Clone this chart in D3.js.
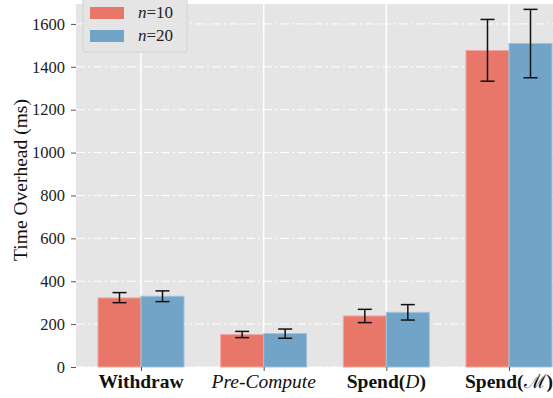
<!DOCTYPE html>
<html>
<head>
<meta charset="utf-8">
<script src="https://cdn.jsdelivr.net/npm/d3@7"></script>
<style>
  body { margin: 0; background: #fff; }
  svg { display: block; font-family: "Liberation Serif", "DejaVu Serif", serif; }
</style>
</head>
<body>
<svg width="553" height="398"></svg>
<script>
const categories = ["Withdraw", "Pre-Compute", "SpendD", "SpendM"]
const seriesNames = ["n=10", "n=20"]
const meanN10 = [322, 151, 238, 1476]
const meanN20 = [330, 156, 255, 1509]
const lowN10 = [300, 137, 207, 1333]
const highN10 = [347, 166, 269, 1621]
const lowN20 = [305, 134, 219, 1349]
const highN20 = [355, 177, 291, 1668]
const yTicks = [0, 200, 400, 600, 800, 1000, 1200, 1400, 1600]

const colors = ["#E8776A", "#72A4C8"]
const edges = ["#F0A69E", "#A2C3DC"]

const svg = d3.select("svg")
const plotLeft = 76, plotTop = 4, plotBottom = 367, plotRight = 553

const x = d3.scalePoint().domain(categories).range([141, 509])
const sub = d3.scaleBand().domain(seriesNames).range([-43, 43])
const y = d3.scaleLinear().domain([0, 1693]).range([plotBottom, plotTop])

// background
svg.append("rect")
    .attr("x", plotLeft).attr("y", plotTop)
    .attr("width", plotRight - plotLeft).attr("height", plotBottom - plotTop)
    .style("fill", "#E5E5E5")

// horizontal grid (dash-dot)
svg.append("g").selectAll("line")
    .data(yTicks)
    .enter()
    .append("line")
    .attr("x1", plotLeft).attr("x2", plotRight)
    .attr("y1", d => y(d)).attr("y2", d => y(d))
    .style("stroke", "#fff")
    .style("stroke-width", 1)
    .style("stroke-dasharray", "9,3,2,3")

// vertical grid
svg.append("g").selectAll("line")
    .data(categories)
    .enter()
    .append("line")
    .attr("x1", d => x(d)).attr("x2", d => x(d))
    .attr("y1", plotTop).attr("y2", plotBottom)
    .style("stroke", "#fff")
    .style("stroke-width", 1.5)

const series = [
    { name: seriesNames[0], mean: meanN10, low: lowN10, high: highN10 },
    { name: seriesNames[1], mean: meanN20, low: lowN20, high: highN20 }
]

series.forEach((s, si) => {
    const g = svg.append("g")
    g.selectAll("rect")
        .data(categories)
        .enter()
        .append("rect")
        .attr("x", d => x(d) + sub(s.name))
        .attr("width", sub.bandwidth())
        .attr("y", (d, i) => y(s.mean[i]))
        .attr("height", (d, i) => y(0) - y(s.mean[i]))
        .style("fill", colors[si])
        .style("stroke", edges[si])
        .style("stroke-width", 1)

    categories.forEach((c, i) => {
        const cx = x(c) + sub(s.name) + sub.bandwidth() / 2
        g.append("line")
            .attr("x1", cx).attr("x2", cx)
            .attr("y1", y(s.low[i])).attr("y2", y(s.high[i]))
            .style("stroke", "#111").style("stroke-width", 1.5)
        ;[s.low[i], s.high[i]].forEach(v => {
            g.append("line")
                .attr("x1", cx - 7).attr("x2", cx + 7)
                .attr("y1", y(v)).attr("y2", y(v))
                .style("stroke", "#111").style("stroke-width", 1.5)
        })
    })
})

// y axis
const yAxis = d3.axisLeft(y).tickValues(yTicks).tickSize(5).tickPadding(6)
    .tickFormat(d3.format("d"))
const yG = svg.append("g")
    .attr("transform", `translate(${plotLeft},0)`)
    .call(yAxis)
yG.select(".domain").remove()
yG.selectAll(".tick line").style("stroke", "#555")
yG.selectAll(".tick text")
    .style("font-size", "16.5px")
    .style("font-family", "Liberation Serif")
    .style("fill", "#222")

// x axis
const xAxis = d3.axisBottom(x).tickSize(4).tickFormat("")
const xG = svg.append("g")
    .attr("transform", `translate(0,${plotBottom})`)
    .call(xAxis)
xG.select(".domain").remove()
xG.selectAll(".tick line").style("stroke", "#555")

const labelParts = {
    "Withdraw": [["Withdraw", "bold", "normal"]],
    "Pre-Compute": [["Pre-Compute", "normal", "italic"]],
    "SpendD": [["Spend(", "bold", "normal"], ["D", "normal", "italic"], [")", "bold", "normal"]],
    "SpendM": [["Spend(", "bold", "normal"], ["\u2133", "normal", "normal"], [")", "bold", "normal"]]
}
categories.forEach(c => {
    const t = svg.append("text")
        .attr("x", x(c)).attr("y", 388)
        .attr("text-anchor", "middle")
        .style("font-size", "19.5px")
        .style("fill", "#111")
    labelParts[c].forEach(p => {
        t.append("tspan")
            .style("font-weight", p[1])
            .style("font-style", p[2])
            .text(p[0])
    })
})

// y label
svg.append("text")
    .attr("transform", `translate(27,180) rotate(-90)`)
    .attr("text-anchor", "middle")
    .style("font-size", "19.5px")
    .style("fill", "#111")
    .text("Time Overhead (ms)")

// legend
const lg = svg.append("g")
lg.append("rect")
    .attr("x", 83).attr("y", -4)
    .attr("width", 104).attr("height", 56)
    .attr("rx", 2)
    .style("fill", "#E5E5E5")
    .style("stroke", "#D2D2D2")
seriesNames.forEach((n, i) => {
    lg.append("rect")
        .attr("x", 90).attr("y", 7 + i * 23)
        .attr("width", 34).attr("height", 12)
        .style("fill", colors[i])
    const t = lg.append("text")
        .attr("x", 138).attr("y", 18 + i * 23)
        .style("font-size", "17px")
        .style("fill", "#222")
    t.append("tspan").style("font-style", "italic").text(n.split("=")[0])
    t.append("tspan").text("=" + n.split("=")[1])
})
</script>
</body>
</html>
